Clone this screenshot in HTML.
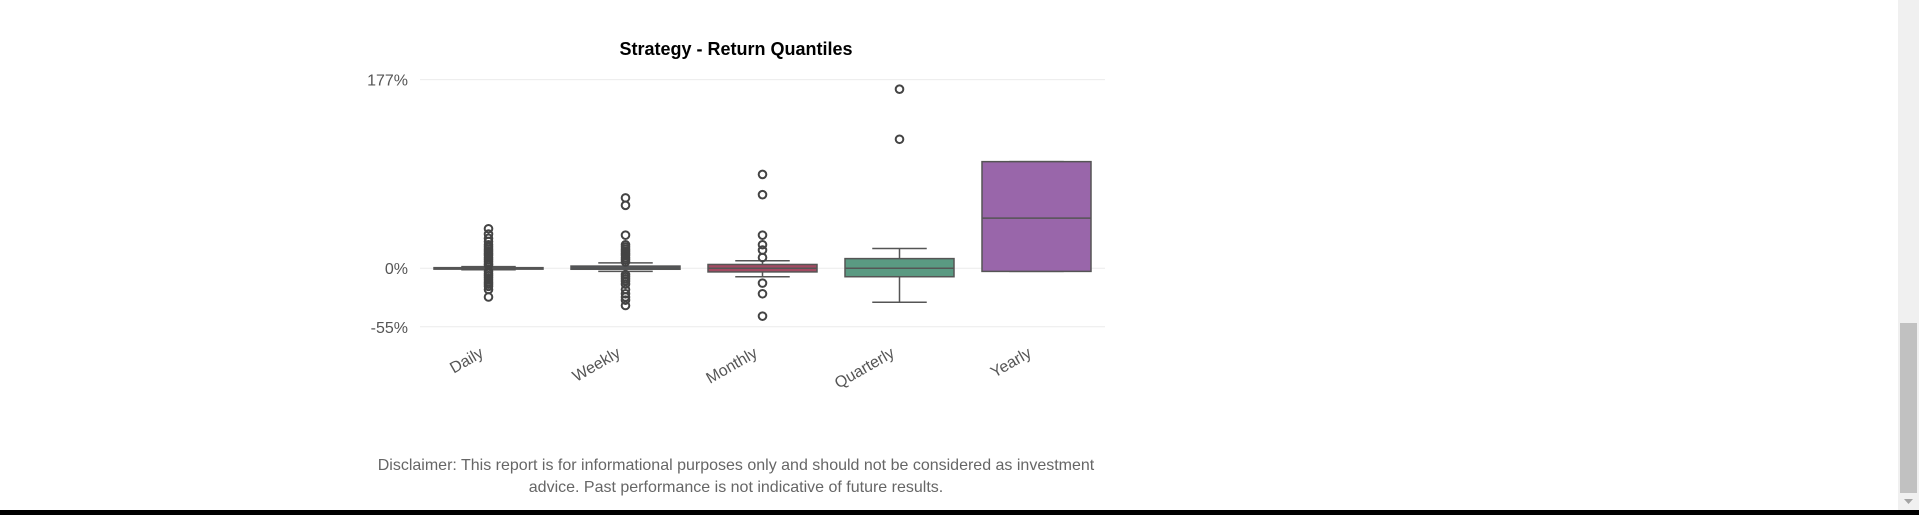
<!DOCTYPE html>
<html><head><meta charset="utf-8"><style>
html,body{margin:0;padding:0;background:#fff;width:1919px;height:515px;overflow:hidden;font-family:"Liberation Sans",sans-serif}
</style></head><body>
<svg id="chart" width="1919" height="515" xmlns="http://www.w3.org/2000/svg">
<text x="736" y="55" text-anchor="middle" font-size="18" font-weight="bold" fill="#000">Strategy - Return Quantiles</text>
<g id="grid"></g><g id="boxes"></g><g id="xl"></g>
<text x="736" y="470" text-anchor="middle" font-size="16" fill="#666">Disclaimer: This report is for informational purposes only and should not be considered as investment</text>
<text x="736" y="492" text-anchor="middle" font-size="16" fill="#666">advice. Past performance is not indicative of future results.</text>
<rect x="1898" y="0" width="21" height="510" fill="#f0f0f0"/>
<rect x="1900" y="323" width="17" height="170" fill="#c1c1c1"/>
<path d="M1904 499 L1913 499 L1908.5 504 Z" fill="#a3a3a3"/>
<rect x="0" y="510" width="1919" height="5" fill="#000"/>
</svg>
<script>
const categories=["Daily","Weekly","Monthly","Quarterly","Yearly"];
const q1=[-0.5,-1,-3.5,-8,-3];
const med=[0,0.5,0,0,47];
const q3=[0.5,2,3.5,9,100];
const whiskLo=[-1.5,-3,-8,-32,-3];
const whiskHi=[1.5,5,7,18.5,100];
const outDaily=[37,32,28,25,22,20,18,16,14,12,10,8,6,4,3,-3,-5,-7,-9,-11,-13,-15,-17,-20,-27];
const outWeekly=[66,59,31,22,20,18,16,14,12,10,8,6,-6,-8,-10,-12,-15,-20,-24,-27,-30,-35];
const outMonthly=[88,69,31,22,17,10,-14,-24,-45];
const outQuarterly=[168,121];
const outYearly=[];
const outliers=[outDaily,outWeekly,outMonthly,outQuarterly,outYearly];
const colors=["#4a4a4a","#3c4e5c","#a34a62","#5a9a82","#9966aa"];
const yTicks=[177,0,-55];
const yTickLabels=["177%","0%","-55%"];
const NS="http://www.w3.org/2000/svg";
const X0=420,X1=1105,yMax=177,yMin=-55,Y0=79.6,Y1=326.8;
function y(v){return Y0+(yMax-v)*(Y1-Y0)/(yMax-yMin);}
function xc(i){return X0+(X1-X0)*(i+0.5)/categories.length;}
const bw=109;
function mk(tag,attrs,parent){const e=document.createElementNS(NS,tag);for(const k in attrs)e.setAttribute(k,attrs[k]);parent.appendChild(e);return e;}
const grid=document.getElementById('grid');
yTicks.forEach((t,i)=>{
 const l=mk('line',{x1:X0,x2:X1,y1:y(t),y2:y(t),stroke:'#ebebeb','stroke-width':1},grid);
 
 
 const tx=mk('text',{x:408,y:y(t)+6,'text-anchor':'end','font-size':16,fill:'#555'},grid);
 tx.textContent=yTickLabels[i];
 
 
});
const bx=document.getElementById('boxes');
categories.forEach((c,i)=>{
 const cx=xc(i);
 const g=mk('g',{},bx);
 
 
 const st={stroke:'#555','stroke-width':1.5};
 mk('line',Object.assign({x1:cx,x2:cx,y1:y(q3[i]),y2:y(whiskHi[i])},st),g);
 mk('line',Object.assign({x1:cx,x2:cx,y1:y(q1[i]),y2:y(whiskLo[i])},st),g);
 mk('line',Object.assign({x1:cx-bw/4,x2:cx+bw/4,y1:y(whiskHi[i]),y2:y(whiskHi[i])},st),g);
 mk('line',Object.assign({x1:cx-bw/4,x2:cx+bw/4,y1:y(whiskLo[i]),y2:y(whiskLo[i])},st),g);
 mk('rect',{x:cx-bw/2,y:y(q3[i]),width:bw,height:Math.max(1.5,y(q1[i])-y(q3[i])),fill:colors[i],stroke:'#555','stroke-width':1.5},g);
 mk('line',Object.assign({x1:cx-bw/2,x2:cx+bw/2,y1:y(med[i]),y2:y(med[i])},st),g);
 outliers[i].forEach(v=>{
  const o=mk('circle',{cx:cx,cy:y(v),r:3.8,fill:'none',stroke:'#444','stroke-width':2},g);
  
  
 });
 const t=mk('text',{x:0,y:0,'text-anchor':'end','font-size':16,fill:'#555',transform:`translate(${cx-4},${356}) rotate(-30)`},document.getElementById('xl'));
 t.textContent=c;
 
 
});
</script>
</body></html>
